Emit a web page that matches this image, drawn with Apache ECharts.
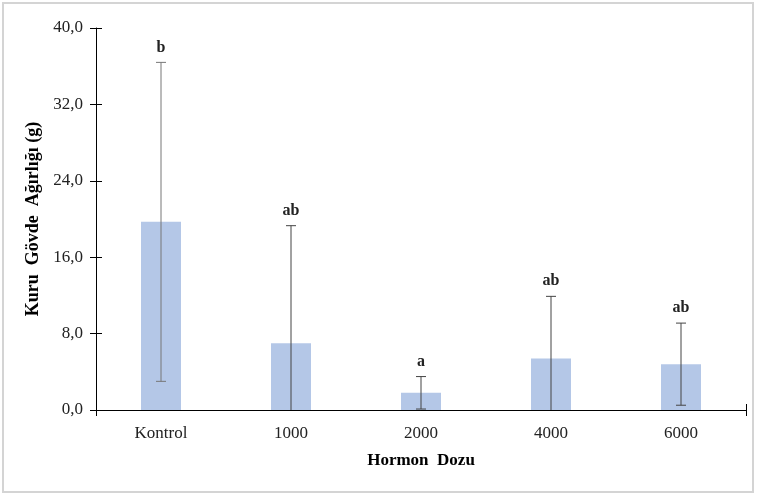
<!DOCTYPE html>
<html><head><meta charset="utf-8">
<script src="https://cdn.jsdelivr.net/npm/echarts@6/dist/echarts.min.js"></script>
<style>html,body{margin:0;padding:0;background:#fff}#c{width:757px;height:497px}</style>
</head><body><div id="c"></div>
<script>
var categories = ['Kontrol', '1000', '2000', '4000', '6000'];
var means = [19.7, 7.0, 1.8, 5.4, 4.8];
var errors = [16.7, 12.3, 1.7, 6.5, 4.3];
var letters = ['b', 'ab', 'a', 'ab', 'ab'];
var yTicks = [0, 8, 16, 24, 32, 40];

var chart = echarts.init(document.getElementById('c'));
var FONT = '"Liberation Serif", "Times New Roman", serif';
var errData = categories.map(function (c, i) {
  return [i, means[i] - errors[i], means[i] + errors[i], letters[i]];
});
var fmt = function (v) { return v.toFixed(1).replace('.', ','); };
var tickStyle = { color: '#000', width: 1 };
chart.setOption({
  animation: false,
  graphic: [{ type: 'rect', shape: { x: 3, y: 3, width: 750, height: 489 }, style: { fill: 'none', stroke: '#d4d4d4', lineWidth: 2 } }],
  grid: { left: 96, right: 11, top: 28, bottom: 87 },
  xAxis: [{
    type: 'category', data: categories,
    axisLine: { lineStyle: { color: '#000', width: 1 } },
    axisTick: { alignWithLabel: true, length: 6, lineStyle: tickStyle },
    axisLabel: { color: '#222', fontFamily: FONT, fontSize: 17, margin: 15 },
    name: 'Hormon  Dozu', nameLocation: 'middle', nameGap: 42,
    nameTextStyle: { color: '#000', fontFamily: FONT, fontSize: 17, fontWeight: 'bold' }
  }, {
    type: 'category', data: categories, position: 'bottom',
    axisLine: { show: false },
    axisTick: { alignWithLabel: true, inside: true, length: 6, lineStyle: tickStyle },
    axisLabel: { show: false }
  }, {
    type: 'value', min: 0, max: categories.length, interval: categories.length, position: 'bottom',
    axisLine: { show: false }, splitLine: { show: false },
    axisTick: { show: true, length: 6, lineStyle: tickStyle },
    axisLabel: { show: false }
  }, {
    type: 'value', min: 0, max: categories.length, interval: categories.length, position: 'bottom',
    axisLine: { show: false }, splitLine: { show: false },
    axisTick: { show: true, inside: true, length: 6, lineStyle: tickStyle },
    axisLabel: { show: false }
  }],
  yAxis: [{
    type: 'value', min: yTicks[0], max: yTicks[yTicks.length - 1], interval: 8,
    axisLine: { show: true, lineStyle: { color: '#000', width: 1 } },
    axisTick: { show: true, length: 6, lineStyle: tickStyle },
    splitLine: { show: false },
    axisLabel: { color: '#222', fontFamily: FONT, fontSize: 17, margin: 13, formatter: fmt },
    name: 'Kuru  Gövde  Ağırlığı (g)', nameLocation: 'middle', nameGap: 53,
    nameTextStyle: { color: '#000', fontFamily: FONT, fontSize: 18, fontWeight: 'bold' }
  }, {
    type: 'value', min: yTicks[0], max: yTicks[yTicks.length - 1], interval: 8, position: 'left',
    axisLine: { show: false },
    axisTick: { show: true, inside: true, length: 6, lineStyle: tickStyle },
    splitLine: { show: false },
    axisLabel: { show: false }
  }],
  series: [{
    type: 'bar', data: means, barWidth: 40,
    itemStyle: { color: '#b4c7e7' }
  }, {
    type: 'custom', data: errData, z: 5,
    renderItem: function (params, api) {
      var x = api.value(0);
      var lo = Math.max(api.value(1), 0);
      var hi = api.value(2);
      var pLo = api.coord([x, lo]);
      var pHi = api.coord([x, hi]);
      var cap = 5;
      var col = params.dataIndex === 0 ? '#777' : '#444';
      var children = [
        { type: 'line', shape: { x1: pHi[0], y1: pHi[1], x2: pLo[0], y2: pLo[1] }, style: { stroke: col, lineWidth: 1 } },
        { type: 'line', shape: { x1: pHi[0] - cap, y1: pHi[1], x2: pHi[0] + cap, y2: pHi[1] }, style: { stroke: col, lineWidth: 1 } },
        { type: 'text', x: pHi[0], y: pHi[1] - 7, style: { text: api.value(3), fill: '#222', font: 'bold 16px ' + FONT, align: 'center', verticalAlign: 'bottom' } }
      ];
      if (api.value(1) > 0) {
        children.push({ type: 'line', shape: { x1: pLo[0] - cap, y1: pLo[1], x2: pLo[0] + cap, y2: pLo[1] }, style: { stroke: col, lineWidth: 1 } });
      }
      return { type: 'group', children: children };
    }
  }]
});
</script></body></html>
